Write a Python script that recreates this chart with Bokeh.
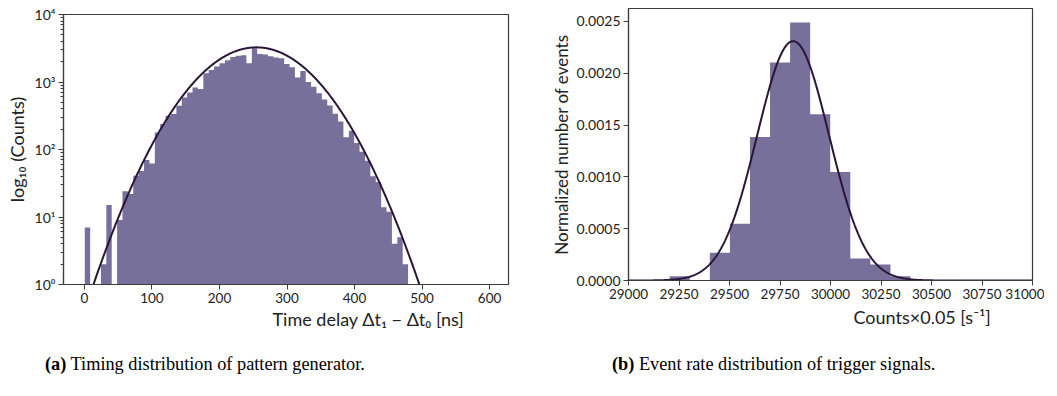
import numpy as np
from bokeh.plotting import figure
from bokeh.models import FixedTicker, Div, NumeralTickFormatter, Title
from bokeh.layouts import row, column
from bokeh.embed import file_html
from bokeh.resources import INLINE

# ---------------- data: (a) timing distribution ----------------
delay_counts = [7, 0, 0, 2, 15, 0, 9, 24, 22, 41,
                48, 70, 62, 178, 238, 316, 335, 445, 590, 700,
                830, 790, 1350, 1500, 1700, 1900, 2100, 2350, 2450, 2500,
                1900, 3150, 2600, 2550, 2400, 2300, 2250, 1850, 1650, 1170,
                1450, 1000, 850, 680, 550, 450, 340, 260, 152, 190,
                125, 93, 68, 40, 33, 14, 12, 4, 5, 2]
delay_bin_start = 0.5
delay_bin_width = 7.98
delay_fit_amp = 3260.0
delay_fit_mu = 254.7
delay_fit_sigma = 60.0
delay_xticks = [0, 100, 200, 300, 400, 500, 600]
delay_yticks = [1, 10, 100, 1000, 10000]
delay_ytick_labels = ["10⁰", "10¹", "10²", "10³", "10⁴"]

# ---------------- data: (b) event rate distribution ----------------
rate_density = [0.000042, 0.0, 0.000267, 0.000547, 0.001386, 0.002104,
                0.002491, 0.001605, 0.001047, 0.000213, 0.000155, 0.000042]
rate_bin_start = 29204.0
rate_bin_width = 99.33
rate_fit_amp = 0.00231
rate_fit_mu = 29815.0
rate_fit_sigma = 178.0
rate_xticks = [29000, 29250, 29500, 29750, 30000, 30250, 30500, 30750, 31000]
rate_yticks = [0.0, 0.0005, 0.0010, 0.0015, 0.0020, 0.0025]

BAR = "#77709a"
LINE = "#2a1638"
AX = "#3c3c3c"
FONT = "Lato"
TXT = "#222222"


def style(p):
    p.xgrid.visible = False
    p.ygrid.visible = False
    p.outline_line_color = AX
    p.outline_line_width = 1.2
    p.background_fill_color = "white"
    p.border_fill_color = "white"
    for ax in p.axis:
        ax.axis_line_color = AX
        ax.axis_line_width = 1.2
        ax.major_tick_line_color = AX
        ax.major_tick_out = 5
        ax.major_tick_in = 0
        ax.minor_tick_out = 3
        ax.minor_tick_in = 0
        ax.minor_tick_line_color = AX
        ax.major_label_text_font = FONT
        ax.major_label_text_font_size = "14px"
        ax.major_label_text_color = TXT
        ax.major_label_standoff = 3
        ax.axis_label_text_font = FONT
        ax.axis_label_text_font_size = "17px"
        ax.axis_label_text_font_style = "normal"
        ax.axis_label_text_color = TXT
    p.xaxis.major_label_text_font_size = "13.5px"


def step_outline(edges_left, width, heights, base):
    xs, ys = [edges_left[0]], [base]
    for l, h in zip(edges_left, heights):
        hh = h if h > 0 else base
        xs += [l, l + width]
        ys += [hh, hh]
    xs.append(edges_left[-1] + width)
    ys.append(base)
    return xs, ys


def xlabel(p, text, offset, standoff):
    p.add_layout(Title(text=text, align="left", offset=offset, standoff=standoff,
                       text_font=FONT, text_font_size="18px",
                       text_font_style="normal", text_color=TXT), "below")


# ---------------- figure (a) ----------------
p1 = figure(width=530, height=344, y_axis_type="log",
            x_range=(-31, 628), y_range=(1, 1e4),
            min_border_left=63, min_border_right=22, min_border_top=14, min_border_bottom=60,
            output_backend="svg", toolbar_location=None)
style(p1)

dc = np.array(delay_counts, dtype=float)
left = delay_bin_start + np.arange(len(dc)) * delay_bin_width
hx, hy = step_outline(list(left), delay_bin_width, list(dc), 0.1)
p1.patch(hx, hy, fill_color=BAR, line_color=None)

xs = np.linspace(0, 520, 600)
ys = delay_fit_amp * np.exp(-(xs - delay_fit_mu) ** 2 / (2 * delay_fit_sigma ** 2))
p1.line(xs, ys, line_color=LINE, line_width=2)

p1.xaxis.ticker = FixedTicker(ticks=delay_xticks)
p1.xaxis.minor_tick_line_color = None
p1.yaxis.ticker = FixedTicker(ticks=delay_yticks,
                              minor_ticks=[mm * 10 ** e for e in range(4) for mm in range(2, 10)])
p1.yaxis.major_label_overrides = dict(zip(delay_yticks, delay_ytick_labels))
p1.yaxis.axis_label = "log₁₀ (Counts)"
p1.yaxis.axis_label_text_font_size = "18px"
p1.yaxis.axis_label_standoff = 4
xlabel(p1, "Time delay Δt₁ − Δt₀ [ns]", 209, 0)

# ---------------- figure (b) ----------------
p2 = figure(width=514, height=344,
            x_range=(29000, 31000), y_range=(0, 0.002625),
            min_border_left=98, min_border_right=12, min_border_top=8, min_border_bottom=64,
            output_backend="svg", toolbar_location=None)
style(p2)

rd = np.array(rate_density, dtype=float)
rl = rate_bin_start + np.arange(len(rd)) * rate_bin_width
rx, ry = step_outline(list(rl), rate_bin_width, list(rd), 0.0)
p2.patch(rx, ry, fill_color=BAR, line_color=None)

xs2 = np.linspace(29000, 31000, 800)
ys2 = rate_fit_amp * np.exp(-(xs2 - rate_fit_mu) ** 2 / (2 * rate_fit_sigma ** 2))
p2.line(xs2, ys2, line_color=LINE, line_width=2)

p2.xaxis.ticker = FixedTicker(ticks=rate_xticks)
p2.yaxis.ticker = FixedTicker(ticks=rate_yticks)
p2.yaxis.formatter = NumeralTickFormatter(format="0.0000")
p2.xaxis.minor_tick_line_color = None
p2.yaxis.minor_tick_line_color = None
p2.yaxis.axis_label = "Normalized number of events"
p2.yaxis.axis_label_standoff = 2
xlabel(p2, "Counts×0.05 [s⁻¹]", 225, 4)

# ---------------- captions ----------------
cap_style = {"font-family": "'Liberation Serif', 'Times New Roman', serif",
             "font-size": "18.3px", "color": "#000000", "padding-top": "7px"}
d1 = Div(text="<b>(a)</b> Timing distribution of pattern generator.", margin=0,
         width=530, height=40, styles=dict(cap_style, **{"padding-left": "45px"}))
d2 = Div(text="<b>(b)</b> Event rate distribution of trigger signals.", margin=0,
         width=514, height=40, styles=dict(cap_style, **{"padding-left": "82px"}))

# nested columns so that the two plot frames are not forced to share edges
layout = column(row(column(p1), column(p2)), row(d1, d2))

with open("out.html", "w") as f:
    f.write(file_html(layout, INLINE))
